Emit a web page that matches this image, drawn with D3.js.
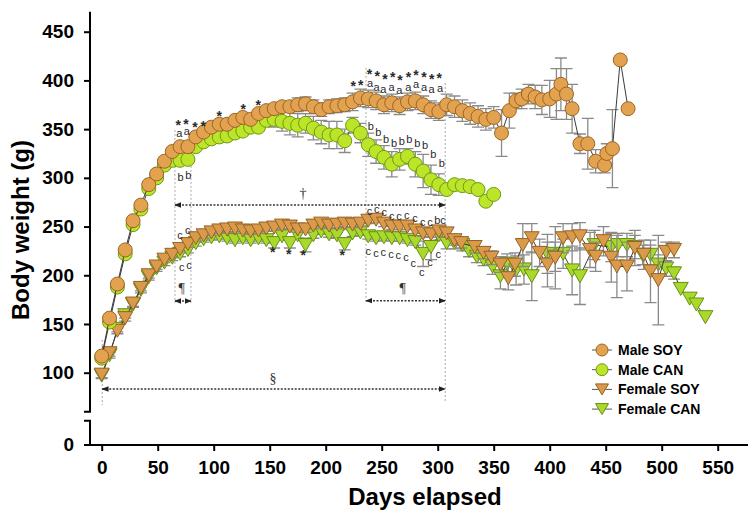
<!DOCTYPE html>
<html><head><meta charset="utf-8">
<script src="https://cdn.jsdelivr.net/npm/d3@7"></script>
<style>body{margin:0;background:#fff}svg{display:block}</style>
</head><body><svg id="c" width="754" height="515"></svg>
<script>
// ---------- DATA ----------
const xTicks = [0,50,100,150,200,250,300,350,400,450,500,550];
const yTicks = [100,150,200,250,300,350,400,450];
const seriesNames = ["Male SOY","Male CAN","Female SOY","Female CAN"];

const msDays = [0,7,14,21,28,35,42,49,56,63,70,77,84,91,98,105,112,119,126,133,140,147,154,161,168,175,182,189,196,203,210,217,224,231,238,245,252,259,266,273,280,287,294,301,308,315,322,329,336,343,350,357,364,370,375,381,387,393,400,406,410,415,420,427,434,441,449,451,456,463,470];
const msVals = [117,156,191,226,256,272,293,304,317,327,332,332,342,347,352,355,355,359,362,360,366,369,371,373,373,375,376,373,370,373,374,375,378,382,381,379,375,377,374,378,379,375,370,368,375,373,369,366,363,360,362,346,369,379,381,386,383,380,381,386,396,386,371,335,335,317,313,325,330,421,371];
const msErrs = [3,3,3,3,3,3,3,3,3,3,3,3,3,3,3,3,3,3,3,3,3,3,3,3,3,7,7,7,7,7,7,7,9,9,9,9,9,9,9,9,9,9,9,9,11,11,11,11,11,11,11,24,18,8,10,10,12,15,19,26,27,26,25,10,26,12,8,10,40,0,0];

const mcDays = [0,7,14,21,28,35,42,49,56,63,70,77,84,91,98,105,112,119,126,133,140,147,154,161,168,175,182,189,196,203,210,217,224,231,238,245,252,259,266,273,280,287,294,301,308,315,322,329,336,343,350];
const mcVals = [115,152,188,222,252,268,289,300,313,318,318,319,332,337,340,342,343,346,348,352,352,359,360,358,356,354,356,351,347,344,344,338,354,346,334,327,321,314,319,322,314,307,298,293,288,293,292,291,288,276,283];
const mcErrs = [3,3,3,3,3,3,3,3,3,3,3,3,3,3,3,3,3,3,3,3,3,6,8,10,12,12,10,12,12,14,14,12,8,10,12,12,12,13,11,8,13,17,15,11,4,3,3,3,3,3,3];

const fsDays = [0,7,14,21,28,35,42,49,56,63,70,77,84,91,98,105,112,119,126,133,140,147,154,161,168,175,182,189,196,203,210,217,224,231,238,245,252,259,266,273,280,287,294,301,308,315,321,333,341,348,356,363,369,376,384,391,398,405,412,420,427,436,441,448,455,460,469,476,484,490,497,504,511];
const fsVals = [98,120,143,156,171,187,200,209,216,221,227,232,238,241,244,246,247,248,246,245,246,248,249,251,250,247,247,251,253,251,252,253,252,253,256,257,253,250,250,250,246,243,242,245,243,236,233,229,223,218,211,197,211,231,238,223,211,218,238,239,240,226,219,235,218,209,209,228,221,204,195,224,226];
const fsErrs = [3,3,3,3,3,3,3,3,3,3,3,3,3,3,3,3,3,3,3,3,3,3,3,3,3,3,3,3,3,3,3,3,3,3,3,3,3,3,3,3,3,3,3,3,4,5,5,6,6,7,8,12,12,22,15,14,23,32,15,14,14,18,15,15,25,32,25,18,15,32,46,10,8];

const fcDays = [0,7,14,21,28,35,42,49,56,63,70,77,84,91,98,105,112,119,126,133,140,147,154,161,168,175,182,189,196,203,210,217,224,231,238,245,252,259,266,273,280,287,294,301,308,315,322,328,335,341,349,356,362,370,377,384,398,405,412,420,427,440,455,461,469,476,483,490,497,504,511,517,525,531,539];
const fcVals = [97,118,145,159,170,185,198,207,213,218,222,226,233,237,239,240,238,236,238,236,238,236,233,240,233,241,231,241,245,242,241,232,243,244,240,238,239,238,238,236,234,222,229,241,233,233,231,225,219,216,209,199,212,205,206,199,222,219,222,205,199,231,229,231,231,229,221,221,211,207,202,186,176,170,157];
const fcErrs = [3,3,3,3,3,3,3,3,3,3,3,3,3,3,3,3,3,3,3,3,3,3,5,3,5,3,7,3,3,3,3,6,3,3,3,3,3,3,3,3,3,13,13,5,6,6,6,6,6,6,8,13,10,15,15,25,20,15,15,25,29,15,15,12,12,12,10,10,10,8,6,0,0,0,0];

// annotations: [day, grams]
const maleStars = [[68.4,357.5],[75.3,358.5],[83.3,355.3],[90.7,356.7],[105,367],[126.4,373.8],[139.8,378.2],[224.6,397.1],[231.3,398.8],[239,410],[246,407.4],[253,404.6],[259.8,406.7],[266.3,403.9],[273.8,406.7],[280.6,409],[287.8,406.7],[294.6,404.6],[301.4,405.6]];
const maleA = [[69.3,346.4],[75.9,348.5],[239.6,397.1],[245.5,393],[251.4,391],[258.9,393.6],[265.7,390.2],[273.8,393],[280.6,396.4],[287.8,393.6],[294.6,391],[302,392]];
const maleB = [[70.5,300.6],[77.3,303],[240.2,353.3],[247,347.4],[253.8,339.6],[261,336.1],[267.9,338.2],[274.6,339.6],[281.8,336.1],[288.7,333.8],[296,324.5],[303.6,315]];
const femCUp = [[69.9,241.4,"c"],[76.8,246.5,"c"],[239,266.3,"c"],[245.5,267.8,"c"],[252.3,265.3,"c"],[258.9,260.9,"c"],[265.4,260.9,"c"],[272.3,261.9,"c"],[279.7,258.5,"c"],[286.6,255,"c"],[293.1,255,"c"],[302,256.8,"bc"]];
const femCDown = [[71.4,208.2],[77.9,210.6],[238,225.3],[245,222.6],[251.4,224.2],[258.3,221.9],[264.8,220.8],[271.7,218.5],[278.2,212.9],[285.7,203.7],[293.1,214],[300.5,221.9]];
const femStars = [[152.7,226.7],[167,225.3],[180,223.6],[214.8,224.2]];
// guide lines: [day, top grams, bottom grams]
const guides = [[0.5,133.6,66.8],[65.4,349.2,171.6],[79.7,336.9,171.6],[236,412.8,171.6],[306.7,397.4,69.9]];
// range arrows: [from day, to day, grams, label, label day, label grams]
const arrows = [[65.4,306.7,272.2,"†",179.7,284.5],[65.4,79.7,173.6,"¶",71.4,187],[236,306.7,173.9,"¶",268.8,187],[0.5,306.7,83.3,"§",153,94.6]];

// ---------- DRAW ----------
const svg = d3.select("#c");
const X = d3.scaleLinear().domain([0,550]).range([101.7,717.7]);
const Y = d3.scaleLinear().domain([100,450]).range([372.7,31.7]);
const Y0 = 445;
const FONT = "'Liberation Sans', Arial, sans-serif";

const defs = svg.append("defs");
["s","e"].forEach(k=>{
  defs.append("marker").attr("id","ar"+k).attr("viewBox","0 0 10 10")
    .attr("refX", k==="e"?9:1).attr("refY",5).attr("markerWidth",7).attr("markerHeight",7)
    .attr("markerUnits","userSpaceOnUse").attr("orient","auto")
    .append("path").attr("d", k==="e"?"M0,1L10,5L0,9Z":"M10,1L0,5L10,9Z").attr("fill","#222");
});

// guides
svg.append("g").selectAll("line").data(guides).enter().append("line")
  .attr("x1",d=>X(d[0])).attr("x2",d=>X(d[0])).attr("y1",d=>Y(d[1])).attr("y2",d=>Y(d[2]))
  .attr("stroke","#a8a8a8").attr("stroke-width",1).attr("stroke-dasharray","2,2");

// arrows
const ga = svg.append("g");
ga.selectAll("line").data(arrows).enter().append("line")
  .attr("x1",d=>X(d[0])).attr("x2",d=>X(d[1])).attr("y1",d=>Y(d[2])).attr("y2",d=>Y(d[2]))
  .attr("stroke","#333").attr("stroke-width",1.6).attr("stroke-dasharray","2,1.5")
  .attr("marker-start","url(#ars)").attr("marker-end","url(#are)");
ga.selectAll("text").data(arrows).enter().append("text")
  .attr("x",d=>X(d[4])).attr("y",d=>Y(d[5])+5).attr("text-anchor","middle")
  .attr("font-family","'Liberation Serif', 'DejaVu Serif', serif").attr("font-size",14).attr("fill","#333")
  .text(d=>d[3]);

// series
function triPath(w,h){return `M${-w/2},${-h/2}L${w/2},${-h/2}L0,${h/2}Z`;}
function drawSeries(days, vals, errs, shape, fill, stroke){
  const pts = days.map((d,i)=>({d, v:vals[i], e:errs[i]}));
  const g = svg.append("g");
  g.selectAll("path.eb").data(pts.filter(p=>p.e>0)).enter().append("path").attr("class","eb")
    .attr("d",p=>{const x=X(p.d),y1=Y(p.v+p.e),y2=Y(p.v-p.e);return `M${x},${y1}V${y2}M${x-6},${y1}H${x+6}M${x-6},${y2}H${x+6}`;})
    .attr("stroke","#8a8a8a").attr("stroke-width",1.3).attr("fill","none");
  g.append("path").datum(pts).attr("d",d3.line().x(p=>X(p.d)).y(p=>Y(p.v)))
    .attr("fill","none").attr("stroke","#3a3a3a").attr("stroke-width",1);
  const m = g.selectAll("g.m").data(pts).enter().append("g").attr("transform",p=>`translate(${X(p.d)},${Y(p.v)})`);
  if(shape==="circle") m.append("circle").attr("r",7).attr("fill",fill).attr("stroke",stroke).attr("stroke-width",1);
  else m.append("path").attr("d",triPath(15,13)).attr("fill",fill).attr("stroke",stroke).attr("stroke-width",1);
}
const styles = [
  {shape:"circle", fill:"#e3a24f", stroke:"#9a6626"},
  {shape:"circle", fill:"#bce52a", stroke:"#6f9a14"},
  {shape:"tri", fill:"#d99a4c", stroke:"#966224"},
  {shape:"tri", fill:"#a9d92b", stroke:"#678f14"}
];
drawSeries(fcDays,fcVals,fcErrs,styles[3].shape,styles[3].fill,styles[3].stroke);
drawSeries(fsDays,fsVals,fsErrs,styles[2].shape,styles[2].fill,styles[2].stroke);
drawSeries(mcDays,mcVals,mcErrs,styles[1].shape,styles[1].fill,styles[1].stroke);
drawSeries(msDays,msVals,msErrs,styles[0].shape,styles[0].fill,styles[0].stroke);

// annotations
const gn = svg.append("g").attr("font-family",FONT).attr("fill","#2a2a2a").attr("text-anchor","middle");
function stars(arr){gn.selectAll(null).data(arr).enter().append("text").attr("x",d=>X(d[0])).attr("y",d=>Y(d[1])+8)
  .attr("font-size",14).attr("font-weight","bold").text("*");}
function letters(arr,t){gn.selectAll(null).data(arr).enter().append("text").attr("x",d=>X(d[0])).attr("y",d=>Y(d[1])+4)
  .attr("font-size",11).text(d=>d[2]||t);}
stars(maleStars); stars(femStars);
letters(maleA,"a"); letters(maleB,"b"); letters(femCUp,"c"); letters(femCDown,"c");

// axes
const gx = svg.append("g").attr("transform",`translate(0,${Y0})`)
  .call(d3.axisBottom(X).tickValues(xTicks).tickSize(6).tickSizeOuter(0));
gx.select(".domain").remove();
gx.selectAll(".tick line").attr("stroke","#000").attr("stroke-width",2);
gx.selectAll(".tick text").attr("y",16).attr("font-size",19).attr("font-weight","bold")
  .attr("font-family",FONT).attr("fill","#000");
const gy = svg.append("g").attr("transform","translate(90,0)")
  .call(d3.axisLeft(Y).tickValues(yTicks).tickSize(6).tickSizeOuter(0));
gy.select(".domain").remove();
gy.selectAll(".tick line").attr("stroke","#000").attr("stroke-width",2);
gy.selectAll(".tick text").attr("x",-16).attr("font-size",19).attr("font-weight","bold")
  .attr("font-family",FONT).attr("fill","#000");
svg.append("path").attr("d",`M90,11.7V411.7H84M84,420.7H90V${Y0}M84,${Y0}H748`)
  .attr("fill","none").attr("stroke","#000").attr("stroke-width",2);
svg.append("text").attr("x",74).attr("y",Y0).attr("dy","0.32em").attr("text-anchor","end")
  .attr("font-size",19).attr("font-weight","bold").attr("font-family",FONT).text("0");

svg.append("text").attr("x",425).attr("y",505).attr("text-anchor","middle")
  .attr("font-size",24).attr("font-weight","bold").attr("font-family",FONT).text("Days elapsed");
svg.append("text").attr("transform","translate(29,230) rotate(-90)").attr("text-anchor","middle")
  .attr("font-size",24).attr("font-weight","bold").attr("font-family",FONT).text("Body weight (g)");

// legend
const lg = svg.append("g").attr("font-family",FONT);
const rows = lg.selectAll("g").data(seriesNames).enter().append("g")
  .attr("transform",(d,i)=>`translate(602,${350+i*19.7})`);
rows.append("line").attr("x1",-10).attr("x2",10).attr("stroke","#555").attr("stroke-width",1);
rows.each(function(d,i){
  const s = styles[i], r = d3.select(this);
  if(s.shape==="circle") r.append("circle").attr("r",6).attr("fill",s.fill).attr("stroke",s.stroke);
  else r.append("path").attr("d",triPath(13,11)).attr("fill",s.fill).attr("stroke",s.stroke);
});
rows.append("text").attr("x",16).attr("dy","0.36em").attr("font-size",14).attr("font-weight","bold").text(d=>d);
</script></body></html>
